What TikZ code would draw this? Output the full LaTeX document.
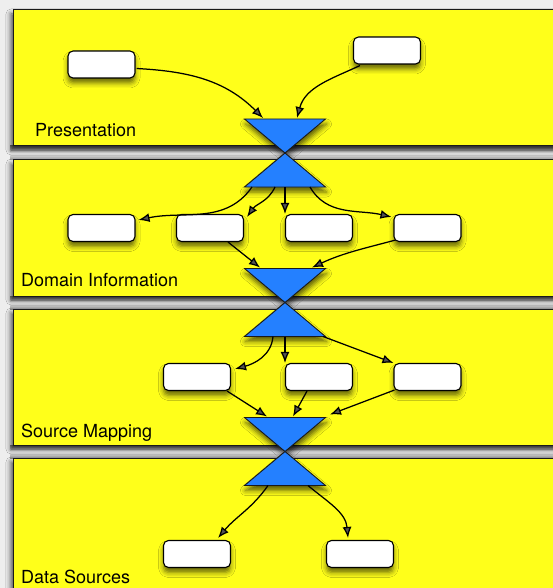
\documentclass[tikz,border=0pt]{standalone}
\usepackage{fontspec}
\setsansfont{TeX Gyre Heros}
\usetikzlibrary{arrows.meta,calc,shadows.blur}

\definecolor{layerfill}{RGB}{255,255,26}
\definecolor{gatefill}{RGB}{36,128,255}
\definecolor{backdrop}{RGB}{238,238,238}

\begin{document}
\begin{tikzpicture}[x=1pt,y=-1pt,
  layerbox/.style={draw=black!90, line width=1pt, fill=layerfill,
    blur shadow={shadow xshift=-2pt, shadow yshift=-4pt, shadow blur radius=5pt, shadow opacity=70}},
  gapshade/.style={top color=black!50, bottom color=black!45, middle color=black!6},
  item/.style={draw=black, line width=1.1pt, fill=white, rounded corners=5pt,
    minimum width=67pt, minimum height=27pt, inner sep=0pt,
    blur shadow={shadow xshift=0pt, shadow yshift=-5pt, shadow blur radius=5pt, shadow opacity=60}},
  gatetri/.style={draw=black!90, line width=0.9pt, fill=gatefill,
    blur shadow={shadow xshift=1pt, shadow yshift=-5pt, shadow blur radius=5pt, shadow opacity=65}},
  flow/.style={line width=1.25pt, -{Latex[length=11pt,width=9pt]}},
  layername/.style={font=\sffamily\fontsize{18}{20}\selectfont, anchor=base west, inner sep=0pt}
]
% page and background
\fill[backdrop] (0,0) rectangle (553,588);
\useasboundingbox (0,0) rectangle (553,588);

% shaded gaps between the layers
\shade[gapshade] (10,146) rectangle (553,160);
\shade[gapshade] (10,296) rectangle (553,309);
\shade[gapshade] (10,445) rectangle (553,458);

% the four layers
\draw[layerbox] (13,10)  rectangle (580,146);
\draw[layerbox] (13,160) rectangle (580,296);
\draw[layerbox] (13,309) rectangle (580,445);
\draw[layerbox] (13,458) rectangle (580,600);

\node[layername] (lpres) at (35,137) {Presentation};
\node[layername] (ldom)  at (21,286) {Domain Information};
\node[layername] (lsrc)  at (21,437) {Source Mapping};
\node[layername] (ldata) at (21,583) {Data Sources};

% hourglass gates between layers
\foreach \n/\yc in {1/153, 2/302.5, 3/451.5} {
  \coordinate (g\n) at (285,\yc);
  \filldraw[gatetri] (244.5,\yc-34) -- (325.5,\yc-34) -- (285,\yc) -- cycle;
  \filldraw[gatetri] (285,\yc) -- (244.5,\yc+34) -- (325.5,\yc+34) -- cycle;
}

% items
\node[item] (p1) at (101.5,64.5) {};
\node[item] (p2) at (387,50.5) {};

\node[item] (d1) at (101.5,228) {};
\node[item] (d2) at (210,228) {};
\node[item] (d3) at (319,228) {};
\node[item] (d4) at (427.5,228) {};

\node[item] (s1) at (197,377) {};
\node[item] (s2) at (319,377) {};
\node[item] (s3) at (427.5,377) {};

\node[item] (ds1) at (197,554) {};
\node[item] (ds2) at (360,554) {};

% presentation -> gate 1
\draw[flow] ($(p1.east)+(1,4)$) to[out=-3,in=135] ($(g1)+(-22,-35)$);
\draw[flow] ($(p2.south west)+(7,1)$) to[out=205,in=75] ($(g1)+(12,-35)$);

% gate 1 -> domain information
\draw[flow] ($(g1)+(-33,34)$) to[out=235,in=12] ($(d1.north east)+(3,6)$);
\draw[flow] ($(g1)+(-10,34)$) to[out=245,in=55] ($(d2.north east)+(3,3)$);
\draw[flow] ($(g1)+(0,34)$) -- (g1 |- d3.north);
\draw[flow] ($(g1)+(25,34)$) to[out=300,in=167] ($(d4.north west)+(-2,3)$);

% domain information -> gate 2
\draw[flow] ($(d2.south)+(18,0)$) -- ($(g2)+(-25,-35)$);
\draw[flow] ($(d4.south west)+(2,-2)$) to[out=195,in=25] ($(g2)+(27,-35)$);

% gate 2 -> source mapping
\draw[flow] ($(g2)+(-12,34)$) to[out=265,in=15] ($(s1.north east)+(4,6)$);
\draw[flow] ($(g2)+(0,34)$) -- (g2 |- s2.north);
\draw[flow] ($(g2)+(38,34)$) -- (s3.north west);

% source mapping -> gate 3
\draw[flow] ($(s1.south east)+(-4,0)$) -- ($(g3)+(-18,-35)$);
\draw[flow] ($(s2.south)+(-12,0)$) -- ($(g3)+(8,-35)$);
\draw[flow] ($(s3.south west)+(1,-1)$) -- ($(g3)+(45,-37)$);

% gate 3 -> data sources
\draw[flow] ($(g3)+(-17,34)$) to[out=235,in=50] ($(ds1.north east)+(-13,-2)$);
\draw[flow] ($(g3)+(23,34)$) to[out=-40,in=95] ($(ds2.north)+(-12,-2)$);
\end{tikzpicture}
\end{document}
